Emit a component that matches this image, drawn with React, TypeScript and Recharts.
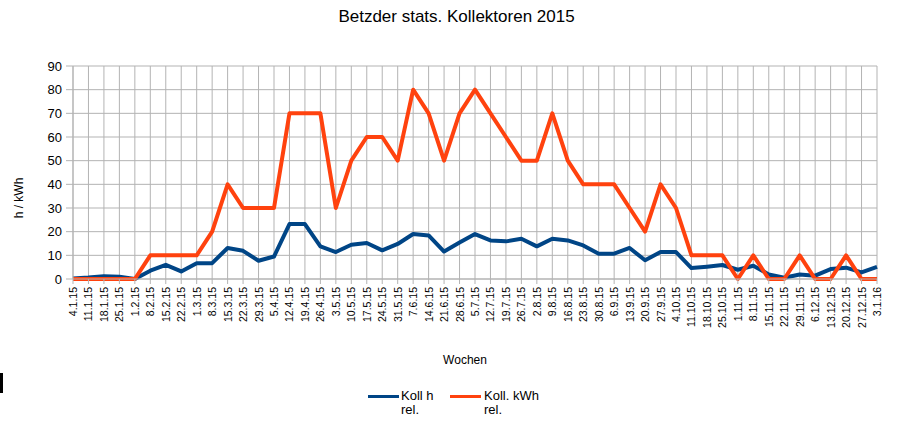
import React from 'react';
import { LineChart, Line, XAxis, YAxis, CartesianGrid, Legend } from 'recharts';

const weeks: string[] = [
  '4.1.15', '11.1.15', '18.1.15', '25.1.15', '1.2.15', '8.2.15', '15.2.15', '22.2.15',
  '1.3.15', '8.3.15', '15.3.15', '22.3.15', '29.3.15', '5.4.15', '12.4.15', '19.4.15',
  '26.4.15', '3.5.15', '10.5.15', '17.5.15', '24.5.15', '31.5.15', '7.6.15', '14.6.15',
  '21.6.15', '28.6.15', '5.7.15', '12.7.15', '19.7.15', '26.7.15', '2.8.15', '9.8.15',
  '16.8.15', '23.8.15', '30.8.15', '6.9.15', '13.9.15', '20.9.15', '27.9.15', '4.10.15',
  '11.10.15', '18.10.15', '25.10.15', '1.11.15', '8.11.15', '15.11.15', '22.11.15', '29.11.15',
  '6.12.15', '13.12.15', '20.12.15', '27.12.15', '3.1.16',
];

const kollH: number[] = [
  0.2, 0.6, 1.2, 1.0, 0, 3.5, 6.0, 3.2, 6.7, 6.7, 13.1, 11.9, 7.7, 9.5, 23.2, 23.2,
  13.8, 11.4, 14.5, 15.2, 12.1, 14.8, 19.0, 18.4, 11.6, 15.4, 19.0, 16.3, 15.9, 17.0,
  13.8, 17.0, 16.3, 14.2, 10.7, 10.7, 13.1, 7.9, 11.4, 11.4, 4.6, 5.2, 5.9, 3.9, 5.6,
  1.9, 0.5, 1.9, 1.4, 4.2, 4.8, 2.8, 5.1,
];

const kollKWh: number[] = [
  0, 0, 0, 0, 0, 10, 10, 10, 10, 20, 40, 30, 30, 30, 70, 70,
  70, 30, 50, 60, 60, 50, 80, 70, 50, 70, 80, 70, 60, 50,
  50, 70, 50, 40, 40, 40, 30, 20, 40, 30, 10, 10, 10, 0, 10,
  0, 0, 10, 0, 0, 10, 0, 0,
];

const yTicks: number[] = [0, 10, 20, 30, 40, 50, 60, 70, 80, 90];

const seriesNames = ['Koll h rel.', 'Koll. kWh rel.'];
const seriesColors = ['#004586', '#ff420e'];

const data = weeks.map((w, i) => ({ week: w, h: kollH[i], kwh: kollKWh[i] }));

const FONT = '"Liberation Sans", Arial, sans-serif';
const GRID = '#b3b3b3';

const XTick = (props: any) => {
  const { x, y, payload } = props;
  return (
    <text
      x={x}
      y={y}
      transform={`rotate(-90, ${x}, ${y})`}
      textAnchor="end"
      dominantBaseline="central"
      fontFamily={FONT}
      fontSize={10.5}
      fill="#000"
    >
      {payload.value}
    </text>
  );
};

const LegendContent = () => {
  const widths = [49, 72];
  return (
    <div style={{ display: 'flex', marginLeft: 368, fontFamily: FONT, fontSize: 13, lineHeight: '14px', color: '#000' }}>
      {seriesNames.map((n, i) => (
        <div key={n} style={{ display: 'flex', alignItems: 'flex-start' }}>
          <span
            style={{
              display: 'inline-block',
              width: 31,
              height: 3,
              marginTop: 6,
              marginRight: i === 0 ? 2 : 3,
              background: seriesColors[i],
            }}
          />
          <div style={{ width: widths[i] }}>{n}</div>
        </div>
      ))}
    </div>
  );
};

export default function App() {
  return (
    <div style={{ position: 'absolute', left: 0, top: 0, width: 907, height: 429, background: '#fff' }}>
      <div
        style={{
          position: 'absolute',
          left: 0,
          top: 8,
          width: 907,
          paddingLeft: 6,
          boxSizing: 'border-box',
          textAlign: 'center',
          fontFamily: FONT,
          fontSize: 17,
          lineHeight: '17px',
          color: '#000',
        }}
      >
        Betzder stats. Kollektoren 2015
      </div>
      <LineChart
        width={907}
        height={429}
        data={data}
        margin={{ top: 66, right: 30, left: 0, bottom: 0 }}
        style={{ position: 'absolute', left: 0, top: 0 }}
      >
        <CartesianGrid stroke={GRID} strokeWidth={1} />
        <XAxis
          dataKey="week"
          interval={0}
          height={150}
          tickSize={5}
          tickMargin={3}
          stroke={GRID}
          tick={<XTick />}
          label={{
            content: () => (
              <text x={465} y={364} textAnchor="middle" fontFamily={FONT} fontSize={12} fill="#000">
                Wochen
              </text>
            ),
          }}
        />
        <YAxis
          width={73}
          domain={[0, 90]}
          ticks={yTicks}
          interval={0}
          tickSize={7}
          tickMargin={4}
          stroke={GRID}
          tick={{ fill: '#000', fontFamily: FONT, fontSize: 13 }}
          label={{
            content: () => (
              <text
                x={23}
                y={198}
                transform="rotate(-90, 23, 198)"
                textAnchor="middle"
                fontFamily={FONT}
                fontSize={12}
                fill="#000"
              >
                h / kWh
              </text>
            ),
          }}
        />
        <Line
          type="linear"
          dataKey="h"
          name={seriesNames[0]}
          stroke={seriesColors[0]}
          strokeWidth={4}
          dot={false}
          activeDot={false}
          strokeLinejoin="round"
          isAnimationActive={false}
        />
        <Line
          type="linear"
          dataKey="kwh"
          name={seriesNames[1]}
          stroke={seriesColors[1]}
          strokeWidth={4}
          dot={false}
          activeDot={false}
          strokeLinejoin="round"
          isAnimationActive={false}
        />
        <Legend
          layout="horizontal"
          verticalAlign="middle"
          align="center"
          wrapperStyle={{ top: 389, left: 0, width: 907 }}
          content={<LegendContent />}
        />
      </LineChart>
      <div style={{ position: 'absolute', left: 0, top: 373, width: 3, height: 20, background: '#000' }} />
    </div>
  );
}
